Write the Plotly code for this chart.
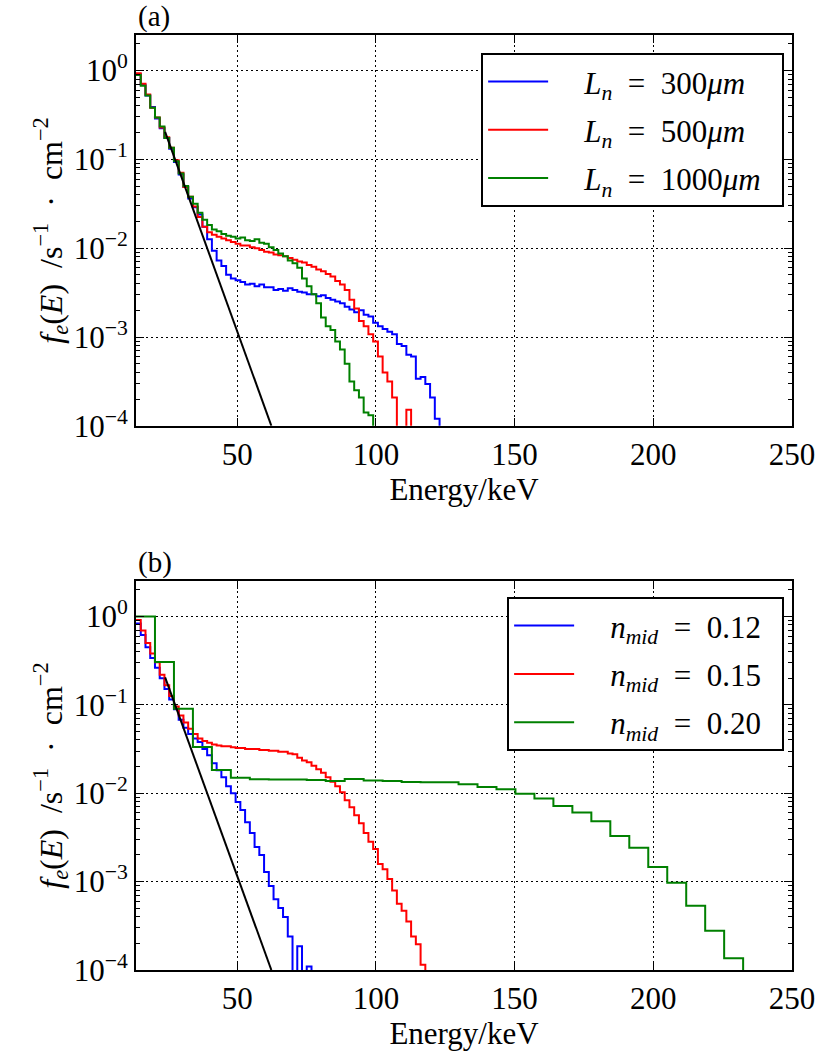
import numpy as np
import plotly.graph_objects as go

# ---------------- data (log10 of f_e per energy bin) ----------------
E0 = 13.5          # first bin edge, keV
dE_fine = 1.71     # fine histogram bin width, keV
dE_coarse = 6.84   # coarse bin width (n_mid = 0.20 run), keV

# panel (a)
blue_a_log10 = [-0.04, -0.16, -0.28, -0.41, -0.54, -0.65, -0.76, -0.88, -1.03, -1.17, -1.31, -1.44,
                -1.54, -1.62, -1.76, -1.90, -2.03, -2.14, -2.20, -2.30, -2.34, -2.36, -2.38, -2.41,
                -2.40, -2.43, -2.41, -2.44, -2.44, -2.47, -2.46, -2.48, -2.45, -2.47, -2.49, -2.50,
                -2.52, -2.52, -2.54, -2.53, -2.56, -2.58, -2.60, -2.62, -2.66, -2.69, -2.72, -2.70,
                -2.75, -2.77, -2.84, -2.88, -2.91, -2.94, -2.97, -3.08, -3.10, -3.20, -3.22, -3.47,
                -3.45, -3.53, -3.68, -3.92]
red_a_log10 = [-0.03, -0.15, -0.27, -0.42, -0.53, -0.64, -0.75, -0.87, -1.01, -1.15, -1.31, -1.42,
               -1.53, -1.65, -1.76, -1.82, -1.85, -1.87, -1.89, -1.91, -1.93, -1.95, -1.97, -1.97,
               -1.99, -2.00, -2.02, -2.04, -2.05, -2.07, -2.08, -2.09, -2.11, -2.13, -2.15, -2.16,
               -2.19, -2.21, -2.24, -2.26, -2.29, -2.32, -2.37, -2.41, -2.47, -2.58, -2.68, -2.82,
               -2.88, -2.97, -3.05, -3.22, -3.40, -3.50, -3.68, None, None, -3.82]
green_a_log10 = [-0.05, -0.17, -0.28, -0.42, -0.53, -0.63, -0.76, -0.87, -1.02, -1.16, -1.30, -1.42,
                 -1.50, -1.60, -1.68, -1.74, -1.79, -1.81, -1.84, -1.86, -1.87, -1.89, -1.88, -1.91,
                 -1.92, -1.90, -1.94, -1.95, -1.99, -2.02, -2.06, -2.09, -2.14, -2.17, -2.22, -2.34,
                 -2.43, -2.52, -2.62, -2.78, -2.88, -2.92, -3.05, -3.14, -3.30, -3.50, -3.60, -3.68,
                 -3.85, -3.88]

# panel (b)
blue_b_log10 = [-0.08, -0.21, -0.35, -0.47, -0.58, -0.70, -0.82, -0.94, -1.05, -1.17, -1.26, -1.33,
                -1.38, -1.42, -1.50, -1.57, -1.66, -1.74, -1.82, -1.92, -2.00, -2.10, -2.19, -2.33,
                -2.45, -2.61, -2.70, -2.89, -3.05, -3.20, -3.30, -3.40, -3.62, None, -3.73, None,
                -3.96]
red_b_log10 = [-0.04, -0.16, -0.30, -0.42, -0.52, -0.66, -0.78, -0.90, -1.02, -1.12,
               -1.20, -1.27, -1.33, -1.38, -1.41, -1.43, -1.45, -1.46, -1.47, -1.47,
               -1.48, -1.49, -1.49, -1.50, -1.50, -1.50, -1.51, -1.51, -1.52, -1.52,
               -1.53, -1.53, -1.55, -1.56, -1.60, -1.63, -1.65, -1.69, -1.73, -1.77,
               -1.82, -1.87, -1.92, -1.99, -2.08, -2.16, -2.25, -2.34, -2.45, -2.55,
               -2.63, -2.80, -2.86, -2.97, -3.10, -3.25, -3.33, -3.45, -3.62, -3.71, -3.94]
green_b_log10 = [0.0, -0.515, -1.045, -1.478, -1.738, -1.824, -1.843, -1.846, -1.846, -1.850,
                 -1.862, -1.840, -1.855, -1.862, -1.874, -1.876, -1.876, -1.900, -1.930, -1.956,
                 -2.005, -2.061, -2.144, -2.219, -2.317, -2.483, -2.618, -2.836, -3.013, -3.273,
                 -3.555, -3.867]

# exponential (Maxwellian) reference line
fit_E = [24.0, 62.3]
fit_log10 = [-0.69, -4.0]

NB = "\u00a0"
EQ = f"{NB}{NB}={NB}{NB}"
LEAD = NB * 4
TRAIL = NB * 2
legend_a = [f"{LEAD}<i>L<sub>n</sub></i>{EQ}300<i>μm</i>{TRAIL}",
            f"{LEAD}<i>L<sub>n</sub></i>{EQ}500<i>μm</i>{TRAIL}",
            f"{LEAD}<i>L<sub>n</sub></i>{EQ}1000<i>μm</i>{TRAIL}"]
legend_b = [f"{LEAD}<i>n<sub>mid</sub></i>{EQ}0.12{TRAIL}",
            f"{LEAD}<i>n<sub>mid</sub></i>{EQ}0.15{TRAIL}",
            f"{LEAD}<i>n<sub>mid</sub></i>{EQ}0.20{TRAIL}"]
colors = ["#0000ff", "#ff0000", "#008000"]

ytick_vals = [1e-4, 1e-3, 1e-2, 1e-1, 1e0]
ytick_text = ["10<sup>−4</sup>", "10<sup>−3</sup>", "10<sup>−2</sup>", "10<sup>−1</sup>", "10<sup>0</sup>"]
xtick_vals = [50, 100, 150, 200, 250]
x_title = "Energy/keV"
y_title = (f"<i>f<sub>e</sub></i>(<i>E</i>){NB}{NB}/s<sup>−1</sup>{NB}{NB}·{NB}{NB}"
           f"cm<sup>−2</sup>")

FLOOR = 1e-9  # empty bins (zero counts) drawn below the axis


def step_xy(log_vals, dE):
    vals = [10 ** v if v is not None else FLOOR for v in log_vals]
    edges = E0 + dE * np.arange(len(vals) + 1)
    return list(edges), vals + [FLOOR]


FONT = "Liberation Serif"
fig = go.Figure()

series = [
    ("x", "y", "legend", blue_a_log10, dE_fine, legend_a[0], colors[0]),
    ("x", "y", "legend", red_a_log10, dE_fine, legend_a[1], colors[1]),
    ("x", "y", "legend", green_a_log10, dE_fine, legend_a[2], colors[2]),
    ("x2", "y2", "legend2", blue_b_log10, dE_fine, legend_b[0], colors[0]),
    ("x2", "y2", "legend2", red_b_log10, dE_fine, legend_b[1], colors[1]),
    ("x2", "y2", "legend2", green_b_log10, dE_coarse, legend_b[2], colors[2]),
]
for i, (xa, ya, lg, lv, dE, name, col) in enumerate(series):
    x, y = step_xy(lv, dE)
    fig.add_trace(go.Scatter(x=x, y=y, xaxis=xa, yaxis=ya, mode="lines", line_shape="hv",
                             line=dict(color=col, width=2), name=name, legend=lg,
                             legendgroup=f"g{i}"))

for xa, ya in [("x", "y"), ("x2", "y2")]:
    fig.add_trace(go.Scatter(x=fit_E, y=[10 ** v for v in fit_log10], xaxis=xa, yaxis=ya,
                             mode="lines", line=dict(color="black", width=2), showlegend=False))

GRID_DASH = "2px,3px"
xcommon = dict(range=[E0, 250], tickvals=xtick_vals, ticks="inside", ticklen=8, tickwidth=1,
               tickcolor="black", showline=True, linewidth=2, linecolor="black", mirror="allticks",
               showgrid=True, gridcolor="black", griddash=GRID_DASH, gridwidth=1, zeroline=False,
               ticklabeloverflow="allow",
               tickfont=dict(size=31), title=dict(text=x_title, font=dict(size=31), standoff=6))
ycommon = dict(type="log", range=[-4, 0.4], tickvals=ytick_vals, ticktext=ytick_text,
               ticks="inside", ticklen=8, tickwidth=1, tickcolor="black", showline=True,
               linewidth=2, linecolor="black", mirror="allticks", showgrid=True,
               gridcolor="black", griddash=GRID_DASH, gridwidth=1, zeroline=False,
               tickfont=dict(size=31),
               minor=dict(ticks="inside", ticklen=4, tickcolor="black", dtick="D1", showgrid=False),
               title=dict(text=y_title, font=dict(size=32), standoff=2))

legend_common = dict(xanchor="right", yanchor="top", bordercolor="black", borderwidth=2,
                     bgcolor="white", font=dict(size=31), itemwidth=60, tracegroupgap=5)

fig.update_layout(
    width=827, height=1059,
    margin=dict(l=136, r=29, t=35, b=89),
    plot_bgcolor="white", paper_bgcolor="white",
    font=dict(family=FONT, size=30, color="black"),
    xaxis=dict(domain=[0, 1], anchor="y", **xcommon),
    yaxis=dict(domain=[0.582, 1], anchor="x", **ycommon),
    xaxis2=dict(domain=[0, 1], anchor="y2", **xcommon),
    yaxis2=dict(domain=[0, 0.416], anchor="x2", **ycommon),
    legend=dict(x=0.988, y=0.981, **legend_common),
    legend2=dict(x=0.988, y=0.399, **legend_common),
    annotations=[
        dict(text="(a)", xref="x domain", yref="y domain", x=0, y=1, xanchor="left",
             yanchor="bottom", showarrow=False, font=dict(size=29)),
        dict(text="(b)", xref="x2 domain", yref="y2 domain", x=0, y=1, xanchor="left",
             yanchor="bottom", showarrow=False, font=dict(size=29)),
    ],
)

fig.write_html("out.html", config={"displayModeBar": False},
               post_script="document.body.style.margin='0px';")
